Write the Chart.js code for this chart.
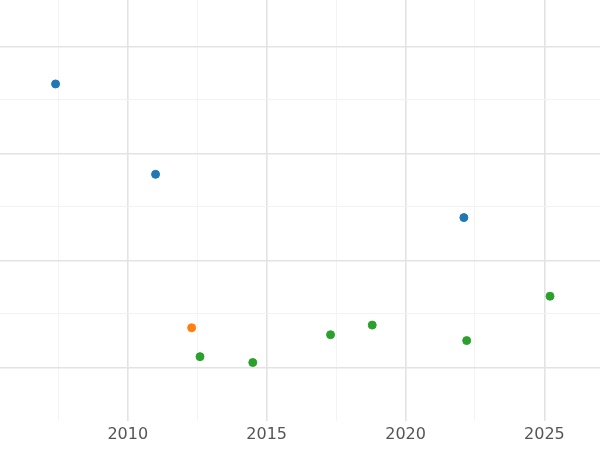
<!DOCTYPE html>
<html>
<head>
<meta charset="utf-8">
<script src="https://cdn.jsdelivr.net/npm/chart.js@4"></script>
<style>
  html, body { margin: 0; padding: 0; background: #fff; }
  #wrap { width: 600px; height: 450px; }
</style>
</head>
<body>
<div id="wrap"><canvas id="c"></canvas></div>
<script>
const blueX = [2007.4, 2011.0, 2022.1];
const blueY = [5.30, 3.61, 2.80];
const orangeX = [2012.3];
const orangeY = [0.74];
const greenX = [2012.6, 2014.5, 2017.3, 2018.8, 2022.2, 2025.2];
const greenY = [0.20, 0.09, 0.61, 0.79, 0.50, 1.33];
const xTicks = [2010, 2015, 2020, 2025];

function pts(xs, ys) { return xs.map((x, i) => ({ x: x, y: ys[i] })); }

const ds = (xs, ys, color) => ({
  data: pts(xs, ys), backgroundColor: color, borderColor: color,
  pointRadius: 4, pointHoverRadius: 4
});

new Chart(document.getElementById('c'), {
  type: 'scatter',
  data: {
    datasets: [
      ds(blueX, blueY, '#1f77b4'),
      ds(orangeX, orangeY, '#ff7f0e'),
      ds(greenX, greenY, '#2ca02c')
    ]
  },
  options: {
    responsive: true,
    maintainAspectRatio: false,
    animation: false,
    layout: { autoPadding: false, padding: { left: 0, right: 0, top: 0, bottom: 2 } },
    plugins: { legend: { display: false }, tooltip: { enabled: false } },
    scales: {
      x: {
        type: 'linear', min: 2005.4, max: 2027,
        afterBuildTicks: axis => {
          const t = [];
          for (let v = 2007.5; v <= 2027; v += 2.5) t.push({ value: v });
          axis.ticks = t;
        },
        border: { display: false },
        grid: {
          color: c => (c.tick && c.tick.value % 5 === 0) ? '#e3e3e3' : '#f4f4f4',
          lineWidth: c => (c.tick && c.tick.value % 5 === 0) ? 1.6 : 1,
          drawTicks: false
        },
        ticks: {
          color: '#555', font: { family: 'DejaVu Sans', size: 16 }, padding: 4,
          callback: v => xTicks.includes(v) ? String(v) : ''
        }
      },
      y: {
        min: -1, max: 6.87,
        afterBuildTicks: axis => {
          const t = [];
          for (let v = 0; v <= 6; v++) t.push({ value: v });
          axis.ticks = t;
        },
        border: { display: false },
        grid: {
          color: c => (c.tick && c.tick.value % 2 === 0) ? '#e3e3e3' : '#f2f2f2',
          lineWidth: c => (c.tick && c.tick.value % 2 === 0) ? 1.6 : 1,
          drawTicks: false
        },
        ticks: { display: false }
      }
    }
  }
});
</script>
</body>
</html>
